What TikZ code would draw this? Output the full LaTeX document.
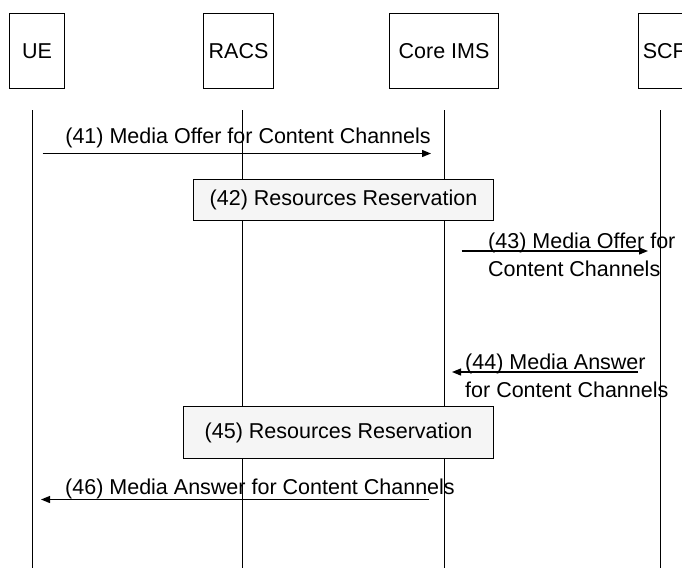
\documentclass[tikz,border=0pt]{standalone}
\usepackage{fontspec}
\setmainfont{Liberation Sans}
\usetikzlibrary{positioning,arrows.meta}
\definecolor{resfill}{RGB}{245,245,245}

\begin{document}
\begin{tikzpicture}[x=1pt,y=-1pt,
        every node/.style={font=\fontsize{21.5}{28}\selectfont, inner sep=0pt},
        entity/.style={draw, line width=1.1pt, minimum height=75pt, anchor=north west},
        resbox/.style={draw, line width=1.1pt, fill=resfill, anchor=north west},
        msg/.style={-{Triangle[length=9pt,width=7pt]}, line width=1.2pt},
        life/.style={line width=1.1pt},
        lbl/.style={align=left}
    ]
    \useasboundingbox (0,0) rectangle (682,568);
    % entities
    \node[entity, minimum width=55pt] (ue) at (9,13) {UE};
    \node[entity, minimum width=70pt] (racs) at (203,13) {RACS};
    \node[entity, minimum width=109pt] (ims) at (389,13) {Core IMS};
    \node[entity, minimum width=52pt] (scf) at (637.7,13) {SCF};
    % lifelines
    \foreach \n/\x in {ue/32.5, racs/242.5, ims/444.5, scf/660.5}{
        \coordinate (\n top) at (\x,110);
        \coordinate (\n bot) at (\x,568);
        \draw[life] (\n top) -- (\n bot);
    }
    % (41)
    \coordinate (m41a) at (42.7,153.5);
    \coordinate (m41b) at (431,153.5);
    \draw[msg] (m41a) -- (m41b);
    \node[lbl] (t41) at (248,138) {(41) Media Offer for Content Channels};
    % (42)
    \node[resbox, minimum width=300pt, minimum height=41pt] (res42) at (193,179) {(42) Resources Reservation};
    % (43)
    \coordinate (m43a) at (461.7,251);
    \coordinate (m43b) at (648,251);
    \draw[msg] (m43a) -- (m43b);
    \node[lbl, anchor=west] (t43) at (488,255) {(43) Media Offer for\\Content Channels};
    % (44)
    \coordinate (m44a) at (638,372);
    \coordinate (m44b) at (452,372);
    \draw[msg] (m44a) -- (m44b);
    \node[lbl, anchor=west] (t44) at (465,376) {(44) Media Answer\\for Content Channels};
    % (45)
    \node[resbox, minimum width=310pt, minimum height=52pt] (res45) at (183,406) {(45) Resources Reservation};
    % (46)
    \coordinate (m46a) at (429,499.5);
    \coordinate (m46b) at (41,499.5);
    \draw[msg] (m46a) -- (m46b);
    \node[lbl] (t46) at (260,489) {(46) Media Answer for Content Channels};
\end{tikzpicture}
\end{document}
